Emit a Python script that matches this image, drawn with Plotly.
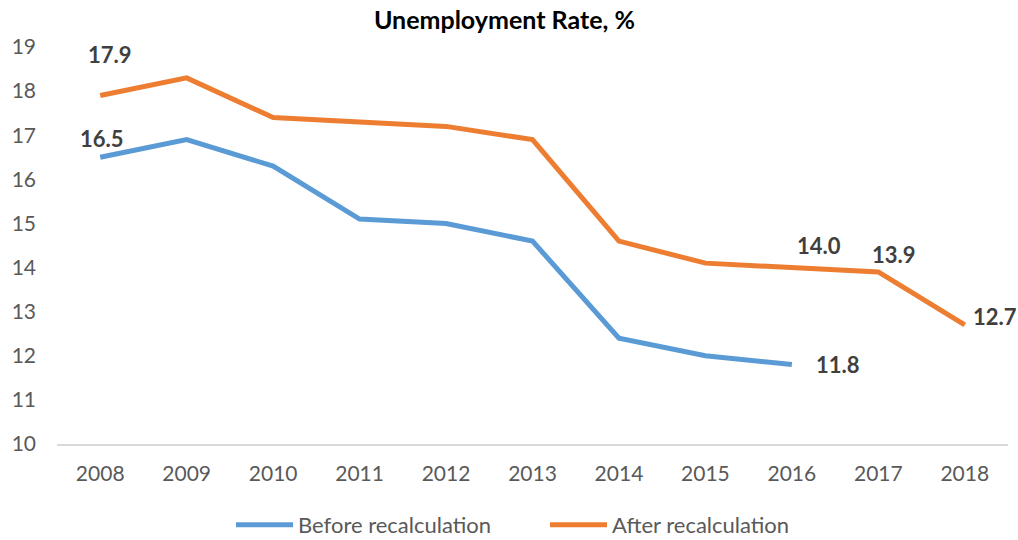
import plotly.graph_objects as go

years = ["2008", "2009", "2010", "2011", "2012", "2013", "2014", "2015", "2016", "2017", "2018"]
before = [16.5, 16.9, 16.3, 15.1, 15.0, 14.6, 12.4, 12.0, 11.8, None, None]
after = [17.9, 18.3, 17.4, 17.3, 17.2, 16.9, 14.6, 14.1, 14.0, 13.9, 12.7]

# labelled points: (index, x shift, y shift)
before_labels = [(0, 2, 19), (8, 46, 0)]
after_labels = [(0, 10, 41), (8, 27, 22), (9, 16, 17), (10, 30, 8)]

BLUE = "#5B9BD5"
ORANGE = "#ED7D31"
FONT = "Lato"

fig = go.Figure()
fig.add_trace(go.Scatter(x=years, y=before, mode="lines", name="Before recalculation",
                         line=dict(color=BLUE, width=5), connectgaps=False))
fig.add_trace(go.Scatter(x=years, y=after, mode="lines", name="After recalculation",
                         line=dict(color=ORANGE, width=5)))

# category axis positions are addressed by index
for series, labels in ((before, before_labels), (after, after_labels)):
    for i, dx, dy in labels:
        fig.add_annotation(x=i, xref="x", y=series[i], yref="y",
                           text=f"<b>{series[i]:.1f}</b>",
                           showarrow=False, xshift=dx, yshift=dy,
                           font=dict(family=FONT, size=22, color="#404040"))

fig.update_layout(
    width=1018, height=540,
    margin=dict(l=57, r=10, t=47, b=96, autoexpand=False),
    paper_bgcolor="white", plot_bgcolor="white",
    title=dict(text="<b>Unemployment Rate, %</b>", x=0.4955, xanchor="center",
               y=0.963, yanchor="middle",
               font=dict(family=FONT, size=25, color="#000000")),
    font=dict(family=FONT, size=21, color="#595959"),
    showlegend=True,
    legend=dict(orientation="h", x=(231 - 57) / 951, xanchor="left",
                y=-0.204, yanchor="middle",
                font=dict(family=FONT, size=22, color="#595959"),
                itemwidth=57, entrywidth=242, entrywidthmode="pixels"),
    xaxis=dict(type="category", range=[-0.5, 10.5], showgrid=False, zeroline=False,
               showline=True, linecolor="#D9D9D9", linewidth=1.5, ticks="",
               ticklabelstandoff=10,
               tickfont=dict(family=FONT, size=21, color="#595959")),
    yaxis=dict(range=[10, 19], dtick=1, showgrid=False, zeroline=False,
               showline=False, ticklabelstandoff=20,
               tickfont=dict(family=FONT, size=21, color="#595959")),
)

fig.write_html("out.html")
